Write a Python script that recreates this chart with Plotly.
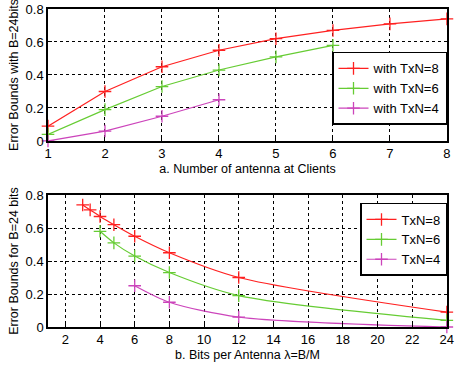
import plotly.graph_objects as go

# Top panel data
clients = [1, 2, 3, 4, 5, 6, 7, 8]
top_tx8 = [0.09, 0.30, 0.45, 0.55, 0.62, 0.67, 0.71, 0.74]
top_tx6 = [0.04, 0.19, 0.33, 0.43, 0.51, 0.58]
top_tx4 = [0.0, 0.06, 0.15, 0.25]

# Bottom panel data
lam_tx8 = [3, 3.43, 4, 4.8, 6, 8, 12, 24]
bot_tx8 = [0.74, 0.71, 0.67, 0.62, 0.55, 0.45, 0.30, 0.09]
lam_tx6 = [4, 4.8, 6, 8, 12, 24]
bot_tx6 = [0.58, 0.51, 0.43, 0.33, 0.19, 0.04]
lam_tx4 = [6, 8, 12, 24]
bot_tx4 = [0.25, 0.15, 0.06, 0.0]

colors = {"8": "#ff2020", "6": "#66cc33", "4": "#cc44bb"}
FONT = "Liberation Sans, Arial, sans-serif"

fig = go.Figure()

def add(x, y, name, c, xa, ya, legend, shape="linear"):
    fig.add_trace(go.Scatter(
        x=x, y=y, name=name, mode="lines+markers",
        line=dict(color=c, width=1.2, shape=shape, smoothing=0.8),
        marker=dict(symbol="cross-thin", size=9, line=dict(color=c, width=1.3)),
        xaxis=xa, yaxis=ya, legend=legend, cliponaxis=False))

add(clients, top_tx8, "with TxN=8", colors["8"], "x", "y", "legend")
add(clients[:len(top_tx6)], top_tx6, "with TxN=6", colors["6"], "x", "y", "legend")
add(clients[:len(top_tx4)], top_tx4, "with TxN=4", colors["4"], "x", "y", "legend")

add(lam_tx8, bot_tx8, "TxN=8", colors["8"], "x2", "y2", "legend2", "spline")
add(lam_tx6, bot_tx6, "TxN=6", colors["6"], "x2", "y2", "legend2", "spline")
add(lam_tx4, bot_tx4, "TxN=4", colors["4"], "x2", "y2", "legend2", "spline")

axcommon = dict(showline=True, linecolor="black", linewidth=1.5, mirror=True,
                showgrid=True, gridcolor="black", griddash="dot", gridwidth=0.8,
                ticks="inside", ticklen=4, tickcolor="black", zeroline=False,
                ticklabeloverflow="allow", automargin=False,
                tickfont=dict(family=FONT, size=13, color="black"))

fig.update_layout(
    width=455, height=365,
    margin=dict(l=48, r=8, t=9, b=38, autoexpand=False),
    paper_bgcolor="white", plot_bgcolor="white",
    font=dict(family=FONT, size=12, color="black"),
    xaxis=dict(domain=[0, 1], anchor="y", range=[1, 8.001], dtick=1,
               title=dict(text="a. Number of antenna at Clients", standoff=4,
                          font=dict(size=12.5)), **axcommon),
    yaxis=dict(domain=[0.585, 1.0], anchor="x", range=[0, 0.8], dtick=0.2,
               tickformat=".1~f",
               title=dict(text="Error Bounds with B=24bits", standoff=4,
                          font=dict(size=12.5)), **axcommon),
    xaxis2=dict(domain=[0, 1], anchor="y2", range=[1, 24.01], tick0=2, dtick=2,
                title=dict(text="b. Bits per Antenna λ=B/M", standoff=4,
                           font=dict(size=12.5)), **axcommon),
    yaxis2=dict(domain=[0.0, 0.415], anchor="x2", range=[0, 0.8], dtick=0.2,
                tickformat=".1~f",
                title=dict(text="Error Bounds for B=24 bits", standoff=4,
                           font=dict(size=12.5)), **axcommon),
    legend=dict(x=1.0, y=0.865, xanchor="right", yanchor="top",
                bgcolor="white", bordercolor="black", borderwidth=1.5,
                font=dict(family=FONT, size=13), tracegroupgap=0),
    legend2=dict(x=1.0, y=0.39, xanchor="right", yanchor="top",
                 bgcolor="white", bordercolor="black", borderwidth=1.5,
                 font=dict(family=FONT, size=13), tracegroupgap=0),
)

fig.write_html("out.html")
